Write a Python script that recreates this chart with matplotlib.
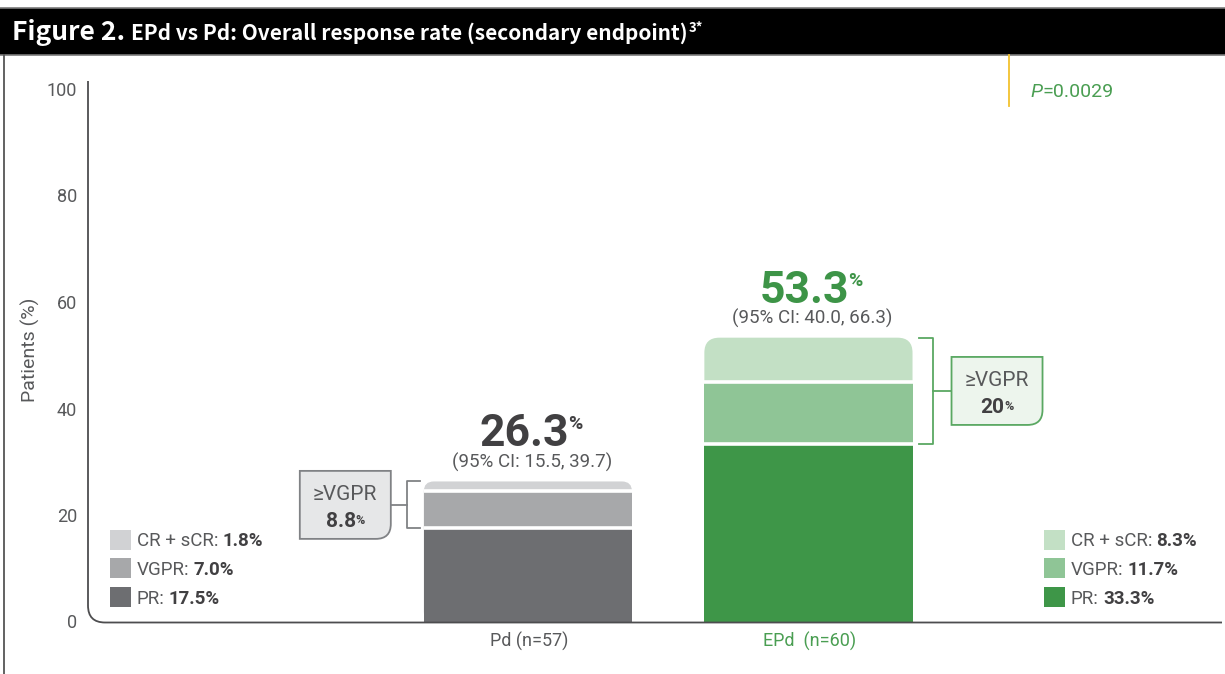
#!/usr/bin/env python3
"""
EPd vs Pd overall response rate - stacked bar figure
"""

import matplotlib
matplotlib.use('Agg')
import matplotlib.pyplot as plt
from matplotlib.patches import FancyBboxPatch, Rectangle, PathPatch
from matplotlib.path import Path

# ---- data ----
groups = ['Pd (n=57)', 'EPd  (n=60)']
pr_rate = [17.5, 33.3]
vgpr_rate = [7.0, 11.7]
cr_rate = [1.8, 8.3]
orr_rate = ['26.3', '53.3']
ci_labels = ['(95% CI: 15.5, 39.7)', '(95% CI: 40.0, 66.3)']
vgpr_plus = ['8.8', '20']
legend_names = ['CR + sCR:', 'VGPR:', 'PR:']
yticks = [0, 20, 40, 60, 80, 100]
p_value = '=0.0029'
title_bold = 'Figure 2.'
title_rest = 'EPd vs Pd: Overall response rate (secondary endpoint)'
title_sup = '3*'

# ---- style ----
W, H = 1225, 674
FONT = ['Roboto', 'DejaVu Sans']
TITLE_FONT = ['Noto Sans CJK SC', 'Roboto', 'DejaVu Sans']
GRAY_TXT = '#58595b'
DARK_TXT = '#414042'
GREEN = '#3d9447'
palette = [
    {'pr': '#6d6e71', 'vgpr': '#a7a8aa', 'cr': '#d1d2d4',
     'num': DARK_TXT, 'box': '#e6e7e8', 'edge': '#808285', 'lab': GRAY_TXT},
    {'pr': '#3e9648', 'vgpr': '#8fc596', 'cr': '#c3e0c5',
     'num': GREEN, 'box': '#edf5ed', 'edge': '#5aa862', 'lab': '#4a9e52'},
]
corner_px = [10, 15]
bar_w = 0.742


def rich(ov, renderer, x, y, pieces, ha='left'):
    """Draw several text pieces on one baseline (overlay pixel coords)."""
    items = []
    for s, kw in pieces:
        kw = dict(kw)
        dy = kw.pop('dy', 0)
        gap = kw.pop('gap', 0)
        kw.setdefault('family', FONT)
        t = ov.text(0, y - dy, s, va='baseline', ha='left', zorder=8, **kw)
        w = t.get_window_extent(renderer).width
        items.append((t, w, gap))
    total = sum(w + g for _, w, g in items)
    cur = x - total / 2 if ha == 'center' else x
    for t, w, g in items:
        cur += g
        t.set_x(cur)
        cur += w
    return cur


def corner_box(x0, y0, x1, y1, r, fc, ec):
    """Box with only the bottom-right corner rounded (y grows downwards)."""
    verts = [(x0, y0), (x1, y0), (x1, y1 - r), (x1, y1), (x1 - r, y1),
             (x0, y1), (x0, y0)]
    codes = [Path.MOVETO, Path.LINETO, Path.LINETO, Path.CURVE3, Path.CURVE3,
             Path.LINETO, Path.CLOSEPOLY]
    return PathPatch(Path(verts, codes), fc=fc, ec=ec, lw=1.3, zorder=5)


def main():
    fig = plt.figure(figsize=(W / 100, H / 100), dpi=100)

    y0_px, y100_px = 621.5, 89.0
    ax = fig.add_axes([88 / W, (H - y0_px) / H, (1220 - 88) / W, (y0_px - y100_px) / H])
    ax.set_xlim(-1.568, 2.467)
    ax.set_ylim(0, 100)
    ax.patch.set_alpha(0)
    for s in ax.spines.values():
        s.set_visible(False)
    ax.set_xticks([])
    ax.set_yticks(yticks)
    ax.set_yticklabels([str(v) for v in yticks], family=FONT, fontsize=13, color=GRAY_TXT)
    ax.tick_params(axis='y', length=0, pad=8)

    px_per_x = (1220 - 88) / (2.467 + 1.568)
    px_per_y = (y0_px - y100_px) / 100

    # overlay in figure pixels for the decorations
    ov = fig.add_axes([0, 0, 1, 1], zorder=3)
    ov.set_xlim(0, W)
    ov.set_ylim(H, 0)
    ov.axis('off')
    renderer = fig.canvas.get_renderer()

    def to_px(x, y):
        X, Y = ax.transData.transform((x, y))
        return X, H - Y

    # stacked bars
    for i in range(len(groups)):
        c = palette[i]
        total = pr_rate[i] + vgpr_rate[i] + cr_rate[i]
        x0 = i - bar_w / 2
        top = FancyBboxPatch((x0, 0), bar_w, total,
                             boxstyle=f'round,pad=0,rounding_size={corner_px[i] / px_per_x}',
                             mutation_aspect=px_per_x / px_per_y,
                             fc=c['cr'], ec='none', zorder=2)
        ax.add_patch(top)
        ax.bar(i, pr_rate[i], bar_w, color=c['pr'], zorder=3)
        ax.bar(i, vgpr_rate[i], bar_w, bottom=pr_rate[i], color=c['vgpr'], zorder=3)
        ax.hlines([pr_rate[i], pr_rate[i] + vgpr_rate[i]], x0, x0 + bar_w,
                  colors='white', lw=2.6, zorder=4)

        # overall response above the bar
        cx, ty = to_px(i, total)
        rich(ov, renderer, cx + 3, ty - 35,
             [(orr_rate[i], dict(fontsize=32, weight='bold', color=c['num'])),
              ('%', dict(fontsize=14, weight='bold', color=c['num'], dy=17, gap=-1))],
             ha='center')
        rich(ov, renderer, cx + 4, ty - 14,
             [(ci_labels[i], dict(fontsize=13.5, color=GRAY_TXT))], ha='center')

        # x label
        _, by = to_px(i, 0)
        rich(ov, renderer, cx + 1, by + 25,
             [(groups[i], dict(fontsize=13, color=c['lab']))], ha='center')

        # bracket for >=VGPR
        _, yb_top = to_px(i, total)
        _, yb_bot = to_px(i, pr_rate[i])
        if i == 0:
            bx_edge, _ = to_px(x0, 0)
            bx = bx_edge - 17
            tick_end = bx + 13
            box_x1 = bx - 16
            box_x0 = box_x1 - 91
        else:
            bx_edge, _ = to_px(x0 + bar_w, 0)
            bx = bx_edge + 20
            tick_end = bx - 14
            box_x0 = bx + 19
            box_x1 = box_x0 + 91
        ov.plot([tick_end, bx, bx, tick_end], [yb_top, yb_top, yb_bot, yb_bot],
                color=c['edge'], lw=1.3)
        mid = (yb_top + yb_bot) / 2
        near = box_x1 if i == 0 else box_x0
        ov.plot([bx, near], [mid, mid], color=c['edge'], lw=1.3)
        ov.add_patch(corner_box(box_x0, mid - 34, box_x1, mid + 34, 15, c['box'], c['edge']))
        bcx = (box_x0 + box_x1) / 2
        rich(ov, renderer, bcx, mid - 5,
             [('\u2265VGPR', dict(fontsize=15, color=GRAY_TXT))], ha='center')
        rich(ov, renderer, bcx, mid + 22,
             [(vgpr_plus[i], dict(fontsize=15, weight='bold', color=DARK_TXT)),
              ('%', dict(fontsize=9, weight='bold', color=DARK_TXT, dy=3, gap=0))],
             ha='center')

        # legend block
        lx = 110 if i == 0 else 1044
        values = [cr_rate[i], vgpr_rate[i], pr_rate[i]]
        colors = [c['cr'], c['vgpr'], c['pr']]
        for k, (name, val, col) in enumerate(zip(legend_names, values, colors)):
            cy = 539.5 + k * 28.5
            ov.add_patch(Rectangle((lx, cy - 10), 21, 20, fc=col, ec='none'))
            rich(ov, renderer, lx + 27, cy + 7,
                 [(name, dict(fontsize=13.5, color=GRAY_TXT)),
                  (f'{val:.1f}%', dict(fontsize=13.5, weight='bold', color=DARK_TXT, gap=4))])

    # axis line with rounded corner
    ax_x, y_top = to_px(-1.568, 100)
    _, y_zero = to_px(-1.568, 0)
    verts = [(ax_x, y_top - 8), (ax_x, y_zero - 16), (ax_x, y_zero + 1), (ax_x + 17, y_zero + 1),
             (1222, y_zero + 1)]
    codes = [Path.MOVETO, Path.LINETO, Path.CURVE3, Path.CURVE3, Path.LINETO]
    ov.add_patch(PathPatch(Path(verts, codes), fc='none', ec='#4d4d4f', lw=1.3))

    # y label
    ov.text(30, 350, 'Patients (%)', rotation=90, ha='center', va='center',
            family=FONT, fontsize=14, color=GRAY_TXT)

    # header band and frame
    ov.add_patch(Rectangle((0, 8), W, 47, fc='black', ec='none'))
    ov.plot([0, W], [8, 8], color='#7a7a7a', lw=1.2)
    ov.plot([0, W], [55, 55], color='#7a7a7a', lw=1.2)
    ov.plot([4, 4], [55, H], color='#555555', lw=1.3)
    rich(ov, renderer, 12, 40,
         [(title_bold, dict(fontsize=19, weight='bold', color='white', family=TITLE_FONT)),
          (title_rest, dict(fontsize=15, weight='bold', color='white', family=TITLE_FONT, gap=6)),
          (title_sup, dict(fontsize=9.5, weight='bold', color='white', family=TITLE_FONT, dy=8, gap=1))])

    # p value
    ov.plot([1009, 1009], [55, 106], color='#f2c12e', lw=1.3)
    rich(ov, renderer, 1030, 97,
         [('P', dict(fontsize=14, style='italic', color='#4a9e52')),
          (p_value, dict(fontsize=14, color='#4a9e52', gap=1))])

    fig.savefig('out.png', dpi=100)


if __name__ == '__main__':
    main()
